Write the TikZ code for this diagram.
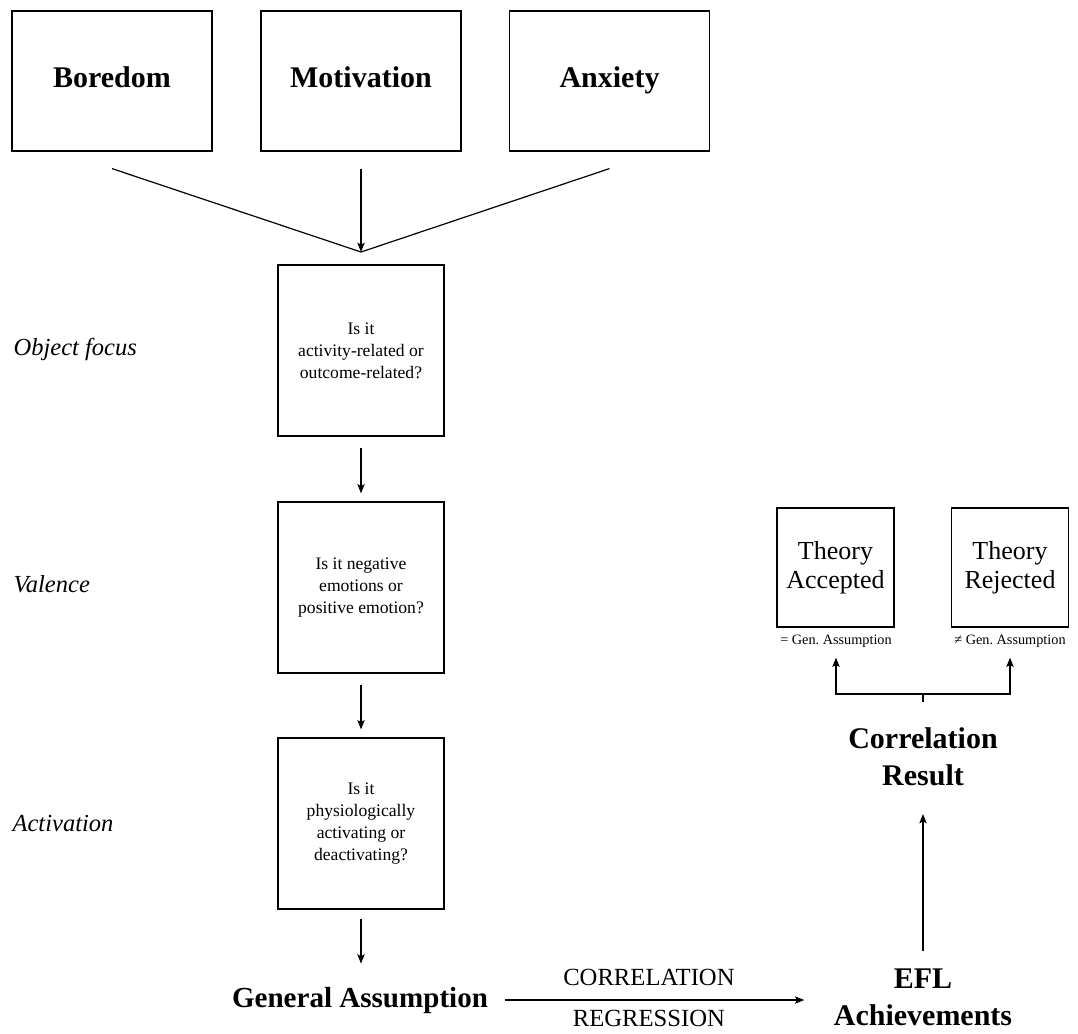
\documentclass[tikz,border=0pt]{standalone}
\usepackage{fontspec}
\setmainfont{Liberation Serif}
\frenchspacing
\usetikzlibrary{arrows.meta}
\begin{document}
\begin{tikzpicture}[x=0.75pt,y=-0.75pt,line width=0.9pt,>={Stealth[length=7pt,width=5.5pt,inset=1.5pt]},
	emobox/.style={draw,minimum width=150pt,minimum height=105pt,text height=15pt,text depth=4.5pt,font=\fontsize{22.5}{27}\selectfont\bfseries},
	qbox/.style={draw,align=center,minimum width=124.5pt,minimum height=128.25pt,font=\fontsize{13.2}{16.5}\selectfont},
	tbox/.style={draw,align=center,minimum width=87.75pt,minimum height=89.25pt,font=\fontsize{19.5}{21.75}\selectfont},
	dimtext/.style={anchor=base west,inner sep=0pt,font=\fontsize{18.4}{22}\selectfont\itshape},
	gentext/.style={anchor=base,inner sep=0pt,font=\fontsize{10.7}{13}\selectfont},
	bigtext/.style={align=center,inner sep=0pt,font=\fontsize{22.5}{27.75}\selectfont\bfseries},
	edgetext/.style={midway,anchor=base,inner sep=0pt,xshift=-9pt,font=\fontsize{18.5}{22}\selectfont},
	flow/.style={->,shorten <=8.25pt,shorten >=6pt}]
	\useasboundingbox (0,0) rectangle (1078,1034);
	% emotions
	\node[emobox] (boredom) at (112,81) {Boredom};
	\node[emobox] (motivation) at (361,81) {Motivation};
	\node[emobox] (anxiety) at (609.5,81) {Anxiety};
	\coordinate (join) at (361,252);
	\draw ([yshift=-12.75pt]boredom.south) -- (join);
	\draw[->] ([yshift=-12.75pt]motivation.south) -- (join);
	\draw ([yshift=-12.75pt]anxiety.south) -- (join);
	% questions
	\node[qbox] (focus) at (361,350.5) {Is it\\activity-related or\\outcome-related?};
	\node[qbox] (valence) at (361,587.5) {Is it negative\\emotions or\\positive emotion?};
	\node[qbox] (activation) at (361,823.5) {Is it\\physiologically\\activating or\\deactivating?};
	\node[dimtext] (focuslabel) at (13,355) {Object focus};
	\node[dimtext] (valencelabel) at (13,592) {Valence};
	\node[dimtext] (activationlabel) at (12,831) {Activation};
	\draw[flow] (focus) -- (valence);
	\draw[flow] (valence) -- (activation);
	% results
	\node[anchor=base,inner sep=0pt,font=\fontsize{21.8}{26}\selectfont\bfseries] (assump) at (360,1007) {General Assumption};
	\node[bigtext] (efl) at (923,997) {EFL\\Achievements};
	\node[bigtext] (result) at (923,757) {Correlation\\Result};
	\draw[->,shorten <=6.75pt,shorten >=17pt] (activation.south) -- (activation.south |- assump.north);
	\draw[->,shorten <=12pt,shorten >=21.75pt] (assump.east) -- (assump.east -| efl.west)
		node[edgetext,yshift=11pt] (corrlabel) {CORRELATION}
		node[edgetext,yshift=-19.8pt] (reglabel) {REGRESSION};
	\draw[->,shorten <=13pt,shorten >=20.5pt] (efl.north) -- (result.south);
	\node[tbox] (accepted) at (835.5,567.5) {Theory\\Accepted};
	\node[tbox] (rejected) at (1010,567.5) {Theory\\Rejected};
	\node[gentext] (acclabel) at (836,644) {= Gen. Assumption};
	\node[gentext] (rejlabel) at (1010,644) {≠ Gen. Assumption};
	\coordinate (fork) at (923,694);
	\draw[shorten <=19pt] (result.north) -- (fork);
	\draw[->,shorten >=7.5pt] (fork) -| (acclabel.south);
	\draw[->,shorten >=7.5pt] (fork) -| (rejlabel.south);
\end{tikzpicture}
\end{document}
